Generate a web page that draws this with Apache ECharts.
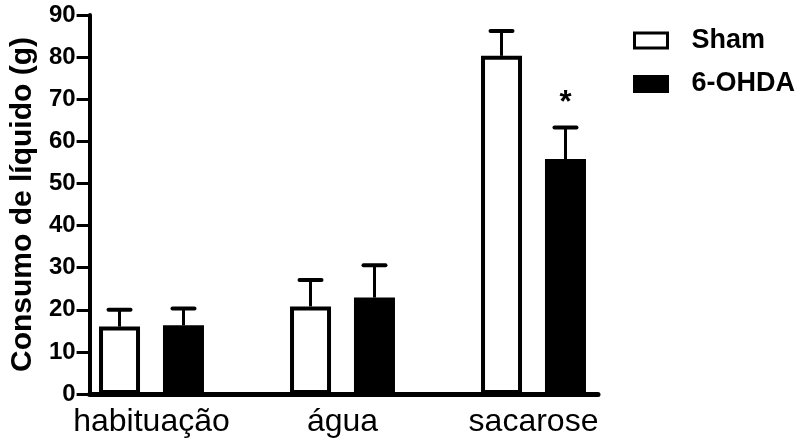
<!DOCTYPE html>
<html><head><meta charset="utf-8">
<script src="https://cdn.jsdelivr.net/npm/echarts@6/dist/echarts.min.js"></script>
<style>html,body{margin:0;padding:0;background:#fff}#c{width:797px;height:441px}</style>
</head><body><div id="c"></div>
<script>
const categories = ['habituação', 'água', 'sacarose'];
const seriesNames = ['Sham', '6-OHDA'];
const shamMean = [16.0, 20.8, 80.3];
const shamUpper = [20.0, 27.1, 86.2];
const ohdaMean = [16.3, 22.9, 55.8];
const ohdaUpper = [20.3, 30.6, 63.3];
const ohdaSig = ['', '', '*'];
const yMin = 0, yMax = 90, yStep = 10;
const yName = 'Consumo de líquido (g)';

const FONT = "'Liberation Sans', Arial, sans-serif";
const BAR_W = 41, BAR_GAP = 0.56;
const OFF = (BAR_W + BAR_GAP * BAR_W) / 2;

function errRender(sign, sig) {
  return function (params, api) {
    const i = api.value(0);
    const m = api.coord([i, api.value(1)]);
    const u = api.coord([i, api.value(2)]);
    const x = m[0] + sign * OFF;
    const ch = [
      {type: 'line', shape: {x1: x, y1: m[1], x2: x, y2: u[1]}, style: {stroke: '#000', lineWidth: 3}},
      {type: 'line', shape: {x1: x - 11, y1: u[1], x2: x + 11, y2: u[1]}, style: {stroke: '#000', lineWidth: 4, lineCap: 'round'}}
    ];
    if (sig && sig[params.dataIndex]) {
      ch.push({type: 'text', style: {text: sig[params.dataIndex], x: x, y: u[1] - 8, align: 'center', verticalAlign: 'bottom', font: "bold 31px 'Liberation Sans', Arial", fill: '#000'}});
    }
    return {type: 'group', children: ch};
  };
}

const chart = echarts.init(document.getElementById('c'), null, {renderer: 'canvas'});
chart.setOption({
  animation: false,
  backgroundColor: '#fff',
  textStyle: {fontFamily: FONT},
  grid: [
    {left: 86, right: 199, top: 15, bottom: 47},
    {left: 56, right: 168, top: 15, bottom: 47}
  ],
  legend: {
    orient: 'vertical', left: 628, top: 21.5, itemGap: 15.5,
    itemWidth: 33, itemHeight: 15, icon: 'rect',
    itemStyle: {borderWidth: 3, borderColor: '#000'},
    textStyle: {fontSize: 27, fontWeight: 'bold', color: '#000', fontFamily: FONT, lineHeight: 28, padding: [0, 0, 0, 19]},
    data: seriesNames
  },
  xAxis: [
    {gridIndex: 0, type: 'value', min: 0, max: 1,
      axisLine: {show: true, lineStyle: {color: '#000', width: 5, cap: 'round'}},
      axisTick: {show: false}, axisLabel: {show: false}, splitLine: {show: false}},
    {gridIndex: 1, type: 'category', data: categories,
      axisLine: {show: false}, axisTick: {show: false},
      axisLabel: {interval: 0, fontSize: 32, color: '#000', margin: 12, fontFamily: FONT}}
  ],
  yAxis: [
    {gridIndex: 0, type: 'value', min: yMin, max: yMax, interval: yStep,
      name: yName, nameLocation: 'middle', nameGap: 48,
      nameTextStyle: {fontSize: 30, fontWeight: 'bold', color: '#000', fontFamily: FONT},
      axisLine: {show: true, lineStyle: {color: '#000', width: 4}},
      axisTick: {show: true, length: 13, lineStyle: {color: '#000', width: 3}},
      axisLabel: {fontSize: 24, fontWeight: 'bold', color: '#000', margin: 14, fontFamily: FONT},
      splitLine: {show: false}},
    {gridIndex: 1, type: 'value', min: yMin, max: yMax, show: false}
  ],
  series: [
    {name: seriesNames[0], type: 'bar', xAxisIndex: 1, yAxisIndex: 1, data: shamMean,
      barWidth: BAR_W, barGap: (BAR_GAP * 100) + '%',
      itemStyle: {color: '#fff', borderColor: '#000', borderWidth: 4}},
    {name: seriesNames[1], type: 'bar', xAxisIndex: 1, yAxisIndex: 1, data: ohdaMean,
      barWidth: BAR_W, barGap: (BAR_GAP * 100) + '%',
      itemStyle: {color: '#000', borderColor: '#000', borderWidth: 4}},
    {type: 'custom', xAxisIndex: 1, yAxisIndex: 1, renderItem: errRender(-1, null),
      data: categories.map((c, i) => [i, shamMean[i], shamUpper[i]]), z: 3},
    {type: 'custom', xAxisIndex: 1, yAxisIndex: 1, renderItem: errRender(1, ohdaSig),
      data: categories.map((c, i) => [i, ohdaMean[i], ohdaUpper[i]]), z: 3}
  ]
});
</script></body></html>
